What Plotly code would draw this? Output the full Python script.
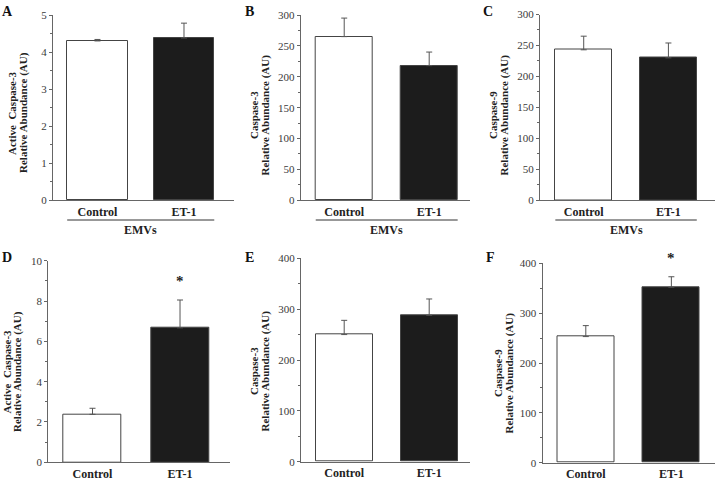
import plotly.graph_objects as go

categories = ["Control", "ET-1"]
panel_letters = ["A", "B", "C", "D", "E", "F"]

means_A = [4.30, 4.38]
err_A = [0.04, 0.40]
means_B = [265, 218]
err_B = [30, 22]
means_C = [243, 230]
err_C = [22, 24]
means_D = [2.38, 6.67]
err_D = [0.30, 1.38]
means_E = [250, 288]
err_E = [28, 32]
means_F = [253, 352]
err_F = [22, 21]

signif_A = ["", ""]
signif_B = ["", ""]
signif_C = ["", ""]
signif_D = ["", "*"]
signif_E = ["", ""]
signif_F = ["", "*"]

ytitle_line1 = ["Active  Caspase-3", "Caspase-3", "Caspase-9",
                "Active  Caspase-3", "Caspase-3", "Caspase-9"]
ytitle_line2 = "Relative Abundance (AU)"
y_ranges = [(0, 5), (0, 300), (0, 300), (0, 10), (0, 400), (0, 400)]
y_dtick = [1, 50, 50, 2, 100, 100]
group_label = "EMVs"
has_group = [True, True, True, False, False, False]

W, H = 715, 482
FONT = "Liberation Serif"
AXC = "#666666"

# layout in pixels: (x0, x1, ytop, ybottom)
boxes = [
    (53, 234, 15, 200.3),
    (300.7, 470, 15, 200.3),
    (540, 715, 14.5, 200.3),
    (48.3, 230, 260.7, 462.3),
    (301, 470, 258.3, 461.7),
    (542.5, 715, 263.3, 462.7),
]
xranges = [(-0.514, 1.578), (-0.512, 1.48), (-0.516, 1.55),
           (-0.505, 1.571), (-0.508, 1.48), (-0.506, 1.51)]
bar_w = [0.70, 0.67, 0.67, 0.667, 0.67, 0.667]
# (x line1, x line2, y centre)
title_pos = [(12, 23, 113), (254, 264.5, 115), (493, 503.5, 115),
             (6.5, 17, 372), (254, 264.5, 371), (498, 508.5, 373)]
letter_pos = [(7, 11), (249, 11), (488, 11), (7, 257), (249, 257), (490, 257)]

means = [means_A, means_B, means_C, means_D, means_E, means_F]
errs = [err_A, err_B, err_C, err_D, err_E, err_F]
signifs = [signif_A, signif_B, signif_C, signif_D, signif_E, signif_F]

fig = go.Figure()
annotations = []
shapes = []
xpos = [0, 1]

for i in range(6):
    sfx = "" if i == 0 else str(i + 1)
    xa, ya = "x" + sfx, "y" + sfx
    x0, x1, yt, yb = boxes[i]
    fig.add_trace(go.Bar(
        x=xpos, y=means[i], width=bar_w[i],
        marker=dict(color=["white", "#1c1c1c"], line=dict(color="#444444", width=1)),
        error_y=dict(type="data", symmetric=False, array=errs[i], arrayminus=[0, 0],
                     color="#555555", thickness=1, width=3),
        xaxis=xa, yaxis=ya, showlegend=False,
    ))
    fig.layout["xaxis" + sfx] = dict(
        domain=[x0 / W, x1 / W], range=list(xranges[i]), anchor=ya,
        tickvals=xpos, ticktext=categories, ticks="", showgrid=False, zeroline=False,
        showline=True, linecolor=AXC, linewidth=1, automargin=False,
        tickfont=dict(family=FONT, size=12, color="#222222", weight="bold"),
        fixedrange=True,
    )
    fig.layout["yaxis" + sfx] = dict(
        domain=[1 - yb / H, 1 - yt / H], range=list(y_ranges[i]), anchor=xa,
        dtick=y_dtick[i], tick0=0, ticks="outside", ticklen=3, tickcolor=AXC,
        minor=dict(dtick=y_dtick[i] / 2, ticks="outside", ticklen=2, tickcolor=AXC),
        showgrid=False, zeroline=False, showline=True, linecolor=AXC, linewidth=1,
        automargin=False,
        tickfont=dict(family=FONT, size=11, color="#3a3a3a"),
        fixedrange=True,
    )
    t1, t2, ty = title_pos[i]
    for tx, txt in ((t1, ytitle_line1[i]), (t2, ytitle_line2)):
        annotations.append(dict(
            text="<b>" + txt + "</b>", x=tx / W, y=1 - ty / H, xref="paper", yref="paper",
            textangle=-90, showarrow=False, xanchor="center", yanchor="middle",
            font=dict(family=FONT, size=11, color="#222222"),
        ))
    lx, ly = letter_pos[i]
    annotations.append(dict(
        text="<b>" + panel_letters[i] + "</b>", x=lx / W, y=1 - ly / H, xref="paper", yref="paper",
        showarrow=False, xanchor="center", yanchor="middle",
        font=dict(family=FONT, size=14, color="#111111"),
    ))
    for j in range(2):
        if signifs[i][j]:
            annotations.append(dict(
                text="<b>" + signifs[i][j] + "</b>", x=xpos[j], y=means[i][j] + errs[i][j],
                xref=xa, yref=ya, showarrow=False, xanchor="center", yanchor="bottom",
                yshift=9, font=dict(family=FONT, size=15, color="#222222"),
            ))
    if has_group[i]:
        shapes.append(dict(
            type="line", xref=xa, yref="paper",
            x0=xpos[0] - bar_w[i] / 2, x1=xpos[1] + bar_w[i] / 2,
            y0=1 - 220 / H, y1=1 - 220 / H, line=dict(color="#333333", width=1),
        ))
        annotations.append(dict(
            text="<b>" + group_label + "</b>", x=(xpos[0] + xpos[1]) / 2, y=1 - 230 / H,
            xref=xa, yref="paper", showarrow=False, xanchor="center", yanchor="middle",
            font=dict(family=FONT, size=12, color="#222222"),
        ))

fig.update_layout(
    width=W, height=H, margin=dict(l=0, r=0, t=0, b=0, autoexpand=False),
    paper_bgcolor="white", plot_bgcolor="white",
    annotations=annotations, shapes=shapes, bargap=0,
)
fig.write_html("out.html", config={"displayModeBar": False},
               post_script="document.body.style.margin='0';document.body.style.overflow='hidden';")
